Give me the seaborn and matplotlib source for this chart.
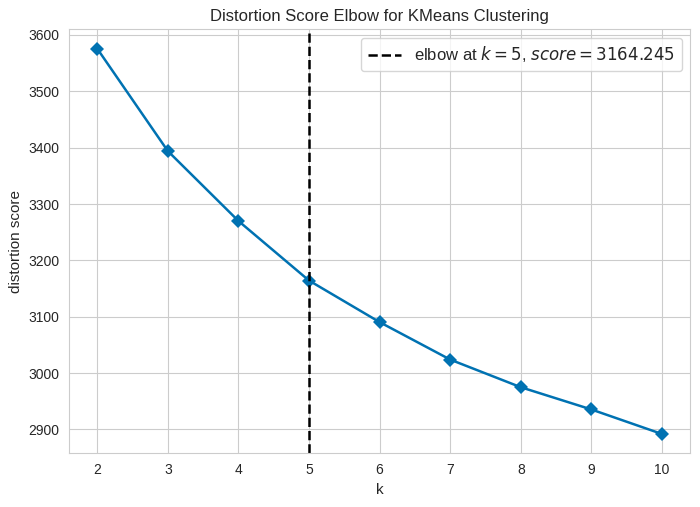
import matplotlib
matplotlib.use("Agg")
import matplotlib.pyplot as plt
import seaborn as sns
import pandas as pd

# distortion scores
k_values = [2, 3, 4, 5, 6, 7, 8, 9, 10]
distortion = [3575.7, 3394.0, 3270.0, 3164.245, 3090.5, 3024.0, 2975.0, 2935.5, 2892.0]
elbow_k = 5
elbow_score = 3164.245

sns.set_style("whitegrid")
plt.rcParams['font.family'] = ['Liberation Sans', 'DejaVu Sans']

df = pd.DataFrame({"k": k_values, "distortion score": distortion})

fig, ax = plt.subplots(figsize=(7, 5.07), dpi=100)
sns.lineplot(data=df, x="k", y="distortion score", ax=ax,
             color="#0072B2", linewidth=1.8, marker="D", markersize=7,
             markeredgewidth=0)

ax.axvline(elbow_k, color="black", linestyle="--", linewidth=1.8,
           label=f"elbow at $k={elbow_k}$, $score={elbow_score:.3f}$")

ax.set_xticks(k_values)
ax.set_title("Distortion Score Elbow for KMeans Clustering", fontsize=12)
ax.set_xlabel("k", fontsize=11)
ax.set_ylabel("distortion score", fontsize=11)
ax.tick_params(labelsize=10)
ax.legend(loc="best", frameon=True, fontsize=12)

plt.subplots_adjust(left=0.0986, right=0.986, top=0.942, bottom=0.106)
plt.savefig("out.png", dpi=100)
